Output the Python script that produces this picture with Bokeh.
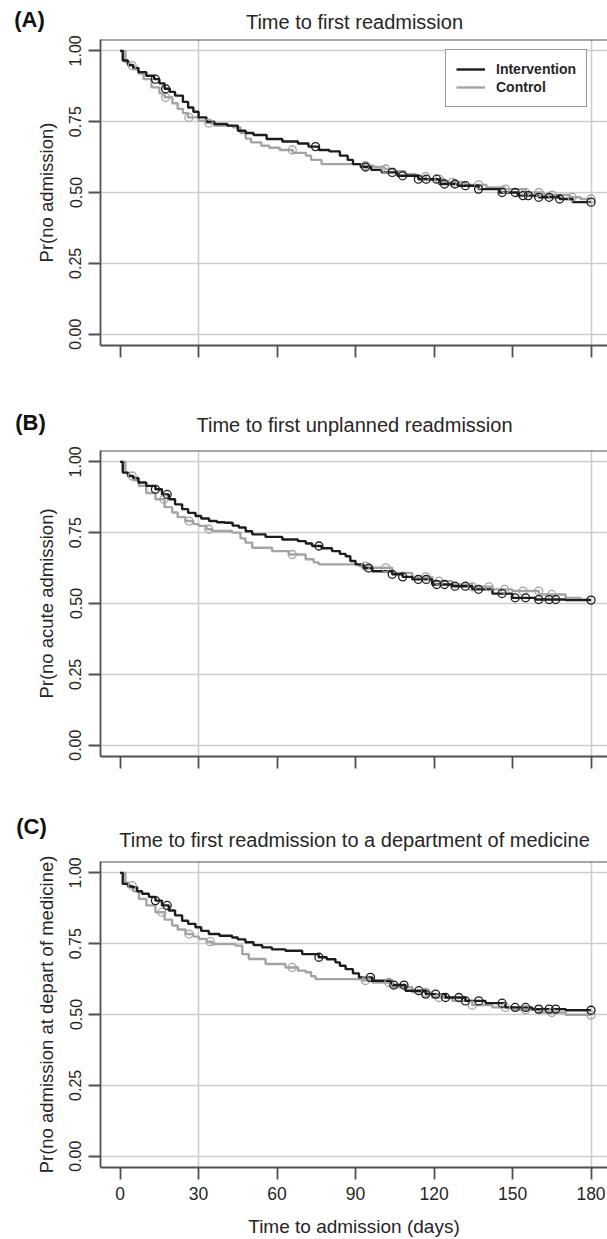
from bisect import bisect_right
from bokeh.plotting import figure
from bokeh.models import Range1d, FixedTicker, Span, Label, Legend, LegendItem
from bokeh.layouts import column
from bokeh.embed import file_html
from bokeh.resources import INLINE

# ---------------- data ----------------
x_ticks = [0, 30, 60, 90, 120, 150, 180]
y_ticks = [0.0, 0.25, 0.5, 0.75, 1.0]
y_tick_labels = ["0.00", "0.25", "0.50", "0.75", "1.00"]
series_names = ["Intervention", "Control"]
panel_tags = ["(A)", "(B)", "(C)"]
panel_titles = ["Time to first readmission",
                "Time to first unplanned readmission",
                "Time to first readmission to a department of medicine"]
y_labels = ["Pr(no admission)", "Pr(no acute admission)",
            "Pr(no admission at depart of medicine)"]
x_label = "Time to admission (days)"

# Panel A
a_int_t = [0, 1, 3, 5, 7, 10, 13, 15, 17, 19, 21, 24, 26, 28, 30, 33, 36, 41, 45, 48, 51, 56,
           62, 68, 72, 76, 80, 84, 87, 89, 92, 96, 100, 106, 114, 122, 129, 137, 145, 152, 160,
           168, 173, 180]
a_int_s = [1.0, 0.966, 0.95, 0.94, 0.925, 0.912, 0.90, 0.885, 0.866, 0.855, 0.842, 0.82, 0.80,
           0.785, 0.765, 0.75, 0.742, 0.736, 0.718, 0.71, 0.703, 0.689, 0.68, 0.673, 0.662, 0.65,
           0.645, 0.63, 0.615, 0.60, 0.59, 0.58, 0.571, 0.559, 0.547, 0.53, 0.524, 0.512, 0.50,
           0.489, 0.483, 0.477, 0.466, 0.466]
a_ctl_t = [0, 2, 3.5, 5, 7, 9, 12, 15, 17, 20, 22, 24, 26, 30, 33, 36, 43, 46, 48, 50, 54, 57,
           61, 66, 71, 73, 77, 93, 97, 101, 105, 109, 113, 117, 124, 132, 140, 147, 155, 162,
           172, 176, 180]
a_ctl_s = [1.0, 0.96, 0.948, 0.935, 0.92, 0.90, 0.871, 0.85, 0.836, 0.815, 0.795, 0.78, 0.765,
           0.753, 0.745, 0.736, 0.73, 0.71, 0.69, 0.677, 0.665, 0.658, 0.65, 0.64, 0.63, 0.615,
           0.60, 0.595, 0.59, 0.583, 0.575, 0.565, 0.556, 0.547, 0.536, 0.527, 0.518, 0.512,
           0.50, 0.491, 0.483, 0.477, 0.477]
a_int_cens = [13.5, 17.4, 74.7, 93.8, 104, 108, 114, 117, 121, 124, 128, 132, 137, 146, 151,
              154, 156, 160, 164, 168, 180]
a_ctl_cens = [4.6, 17.4, 26.3, 33.9, 65.8, 93.8, 101.5, 116.8, 121.9, 127, 137.1, 147.3, 155,
              160.1, 165.2, 172.8, 180]

# Panel B
b_int_t = [0, 1, 3, 5, 7, 10, 13.5, 16, 18.6, 21, 23.7, 26, 28.8, 31, 34, 37, 40, 43, 45.4, 48,
           50.5, 55.6, 62, 68, 71, 73.4, 77, 81, 84, 86.2, 88, 90, 93, 96.4, 104, 108, 111.7,
           119.3, 127, 134.6, 142.3, 149.9, 158.8, 170.3, 180]
b_int_s = [1.0, 0.962, 0.95, 0.943, 0.927, 0.915, 0.903, 0.885, 0.868, 0.85, 0.833, 0.82, 0.809,
           0.80, 0.791, 0.787, 0.785, 0.775, 0.768, 0.755, 0.744, 0.735, 0.726, 0.72, 0.712,
           0.703, 0.695, 0.685, 0.675, 0.667, 0.65, 0.638, 0.625, 0.614, 0.603, 0.594, 0.585,
           0.567, 0.561, 0.55, 0.535, 0.52, 0.514, 0.512, 0.512]
b_ctl_t = [0, 2, 3.3, 5, 7.2, 10, 13.5, 17, 19.9, 22, 25, 28, 30.1, 33, 35.2, 42.8, 46, 47.9,
           50.5, 58.1, 64.5, 70.9, 74, 75.9, 91.3, 96.4, 104, 111.7, 119.3, 127, 134.6, 142.3,
           149.9, 160.1, 170.3, 176, 180]
b_ctl_s = [1.0, 0.962, 0.95, 0.935, 0.915, 0.89, 0.868, 0.84, 0.821, 0.805, 0.791, 0.78, 0.774,
           0.762, 0.756, 0.75, 0.73, 0.715, 0.697, 0.685, 0.673, 0.656, 0.645, 0.638, 0.632,
           0.626, 0.608, 0.594, 0.579, 0.567, 0.559, 0.55, 0.544, 0.532, 0.52, 0.514, 0.514]
b_int_cens = [13.5, 18, 76, 95, 104, 108, 114, 117, 121, 124, 128, 132, 137, 146, 151, 155,
              160, 164, 166.5, 180]
b_ctl_cens = [4.6, 16.7, 26.3, 33.9, 65.8, 93.8, 101.5, 116.8, 121.9, 134.6, 141, 147, 154,
              160, 165]

# Panel C
c_int_t = [0, 1, 3, 4.6, 6.5, 8.4, 11, 13.5, 16, 18.6, 21, 23.7, 26, 28.8, 31, 33.9, 38, 42.8,
           45, 47.9, 51, 54.3, 58, 63.2, 69.6, 75.9, 79, 82.3, 84, 86.2, 89, 91.3, 96.4, 104,
           109.1, 116.8, 124.4, 132, 139.7, 147.3, 157.5, 170.3, 180]
c_int_s = [1.0, 0.961, 0.952, 0.949, 0.935, 0.926, 0.915, 0.902, 0.885, 0.867, 0.85, 0.831,
           0.82, 0.808, 0.795, 0.784, 0.778, 0.772, 0.765, 0.755, 0.745, 0.737, 0.73, 0.725,
           0.713, 0.702, 0.695, 0.684, 0.672, 0.66, 0.645, 0.631, 0.619, 0.604, 0.584, 0.572,
           0.56, 0.548, 0.54, 0.525, 0.519, 0.515, 0.515]
c_ctl_t = [0, 2, 3.3, 5, 7.2, 10, 13.5, 17, 19.9, 22, 25, 28, 30.1, 33, 35.2, 44.1, 46.7, 49.2,
           55.6, 63.2, 68, 70.9, 73, 74.7, 92.5, 96.4, 104, 111.7, 119.3, 127, 134.6, 142.3,
           149.9, 160.1, 170.3, 180]
c_ctl_s = [1.0, 0.965, 0.955, 0.935, 0.908, 0.885, 0.861, 0.835, 0.814, 0.80, 0.784, 0.775,
           0.767, 0.757, 0.749, 0.743, 0.713, 0.696, 0.678, 0.666, 0.655, 0.649, 0.635, 0.625,
           0.62, 0.613, 0.596, 0.578, 0.56, 0.548, 0.533, 0.525, 0.517, 0.507, 0.499, 0.498]
c_int_cens = [13.5, 18, 76, 95.7, 104.6, 108.5, 114.2, 116.8, 120.6, 124.4, 129.5, 132, 137.1,
              146, 151, 155, 160, 164, 166.5, 180]
c_ctl_cens = [4.6, 16, 26.3, 34.5, 65.8, 93.8, 102.7, 116.8, 121.9, 134.6, 147.3, 155, 160,
              165, 180]

# ---------------- styling ----------------
INT_COL = "#1c1c1c"
CTL_COL = "#a4a4a4"
BOX_COL = "#505050"
GRID_COL = "#cdcdcd"
TXT_COL = "#262626"
FONT = "Liberation Sans"

FIG_W = 607
FIG_H = [400, 410, 429]
TOP_B = [39, 50, 51]
BOT_B = [55, 54, 72]
LEFT_B = 100
X0, X1 = -7.5, 186.3
Y0, Y1 = -0.04, 1.04
FRAME_W = FIG_W - LEFT_B
FRAME_H = 306


def px_to_x(page_x):
    return X0 + (page_x - LEFT_B) * (X1 - X0) / FRAME_W


def px_above_to_y(dy):
    return Y1 + dy * (Y1 - Y0) / FRAME_H


# title centre (page x, px above frame top), tag centre (page x, px above frame top)
title_pos = [(354, 17.5), (354, 26), (354, 22)]
tag_pos = [(29, 20), (30, 28), (31, 35)]
# side panel that holds the panel tag (kept out of the frame so it is not clipped)
tag_side = ["left", "above", "above"]


def surv_at(ts, ss, t):
    return ss[max(bisect_right(ts, t) - 1, 0)]


panels = [
    (a_int_t, a_int_s, a_ctl_t, a_ctl_s, a_int_cens, a_ctl_cens),
    (b_int_t, b_int_s, b_ctl_t, b_ctl_s, b_int_cens, b_ctl_cens),
    (c_int_t, c_int_s, c_ctl_t, c_ctl_s, c_int_cens, c_ctl_cens),
]

figs = []
for i, (it, is_, ct, cs, icens, ccens) in enumerate(panels):
    p = figure(width=FIG_W, height=FIG_H[i], x_range=Range1d(X0, X1), y_range=Range1d(Y0, Y1),
               output_backend="svg", toolbar_location=None,
               min_border_left=LEFT_B, min_border_right=0,
               min_border_top=TOP_B[i], min_border_bottom=BOT_B[i])
    p.outline_line_color = None
    p.background_fill_color = "white"
    p.border_fill_color = "white"

    # grid
    p.xgrid.ticker = FixedTicker(ticks=[30, 180])
    p.ygrid.ticker = FixedTicker(ticks=y_ticks)
    for g in (p.xgrid, p.ygrid):
        g.grid_line_color = GRID_COL
        g.grid_line_width = 1.6

    # axes
    for ax in (p.xaxis, p.yaxis):
        ax.axis_line_color = BOX_COL
        ax.axis_line_width = 1.8
        ax.major_tick_line_color = BOX_COL
        ax.major_tick_line_width = 1.8
        ax.major_tick_out = 12
        ax.major_tick_in = 0
        ax.minor_tick_line_color = None
        ax.major_label_text_font = FONT
        ax.major_label_text_color = TXT_COL
        ax.axis_label_text_font = FONT
        ax.axis_label_text_font_style = "normal"
        ax.axis_label_text_color = TXT_COL

    p.xaxis.ticker = FixedTicker(ticks=x_ticks)
    p.xaxis.major_label_text_font_size = "17.5px"
    p.xaxis.major_label_standoff = 7
    if i < 2:
        p.xaxis.major_label_overrides = {t: "" for t in x_ticks}
    else:
        p.xaxis.axis_label = x_label
        p.xaxis.axis_label_text_font_size = "19px"
        p.xaxis.axis_label_standoff = 13

    p.yaxis.ticker = FixedTicker(ticks=y_ticks)
    p.yaxis.major_label_overrides = dict(zip(y_ticks, y_tick_labels))
    p.yaxis.major_label_orientation = "vertical"
    p.yaxis.major_label_text_font_size = "16px"
    p.yaxis.major_label_standoff = 7
    p.yaxis.axis_label = y_labels[i]
    p.yaxis.axis_label_text_font_size = "18.5px"
    p.yaxis.axis_label_standoff = 10

    # top border of the box
    p.add_layout(Span(location=Y1, dimension="width", line_color=BOX_COL, line_width=1.8))

    # curves
    r_ctl = p.step(ct, cs, mode="after", line_color=CTL_COL, line_width=2.4)
    r_int = p.step(it, is_, mode="after", line_color=INT_COL, line_width=2.4)
    p.scatter(ccens, [surv_at(ct, cs, t) for t in ccens], marker="circle", size=8,
              fill_color=None, line_color=CTL_COL, line_width=1.3)
    p.scatter(icens, [surv_at(it, is_, t) for t in icens], marker="circle", size=8,
              fill_color=None, line_color=INT_COL, line_width=1.3)

    # titles (placed in side panels so they are not clipped to the frame)
    tx, ty = title_pos[i]
    p.add_layout(Label(x=px_to_x(tx), y=px_above_to_y(ty), text=panel_titles[i],
                       text_align="center", text_baseline="middle", text_font=FONT,
                       text_font_size="20px", text_color=TXT_COL), "above")
    gx, gy = tag_pos[i]
    p.add_layout(Label(x=px_to_x(gx), y=px_above_to_y(gy), text=panel_tags[i],
                       text_align="center", text_baseline="middle", text_font=FONT,
                       text_font_size="22px", text_font_style="bold", text_color="#111111"),
                 tag_side[i])

    if i == 0:
        legend = Legend(items=[LegendItem(label=series_names[0], renderers=[r_int]),
                               LegendItem(label=series_names[1], renderers=[r_ctl])],
                        location=(345, 238))
        legend.label_text_font = FONT
        legend.label_text_font_size = "14px"
        legend.label_text_font_style = "bold"
        legend.label_text_color = TXT_COL
        legend.glyph_width = 29
        legend.glyph_height = 18
        legend.label_height = 18
        legend.label_standoff = 11
        legend.padding = 10
        legend.spacing = 0
        legend.margin = 0
        legend.border_line_color = "#333333"
        legend.border_line_width = 1.5
        legend.background_fill_alpha = 1.0
        p.add_layout(legend)

    figs.append(p)

layout = column(*figs)
open("out.html", "w").write(file_html(layout, INLINE))
